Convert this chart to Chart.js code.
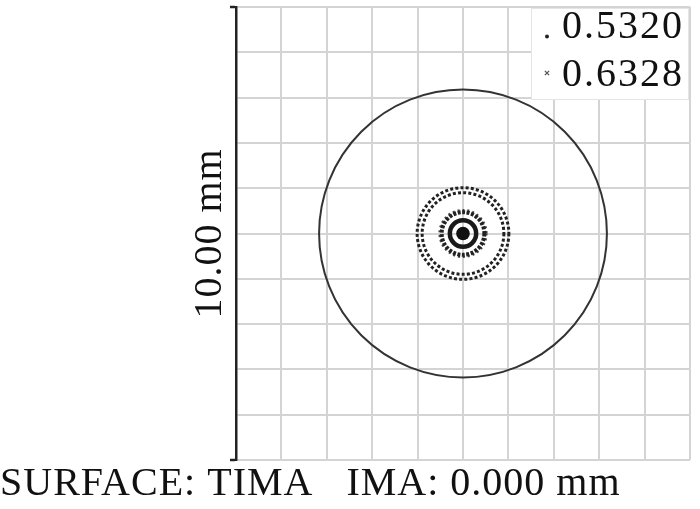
<!DOCTYPE html>
<html>
<head>
<meta charset="utf-8">
<script src="https://cdn.jsdelivr.net/npm/chart.js@4/dist/chart.umd.min.js"></script>
<style>
  html, body { margin: 0; padding: 0; background: #fff; }
  #wrap { width: 700px; height: 509px; }
</style>
</head>
<body>
<div id="wrap"><canvas id="c" width="700" height="509"></canvas></div>
<script>
// ---- data ----
const wavelengths = ['0.5320', '0.6328'];          // legend labels (µm)
const fieldMm = [-5, 5];                            // 10.00 mm box, 1 mm grid
const gridStepMm = [1];
const centroid = [0, 0];                            // spot centroid (mm)
const airyRadiusMm = [3.17];                        // Airy disk radius (mm)
const rings532Mm = [0.15, 0.29, 0.47, 0.90];        // spot ring radii, 0.5320
const rings633Mm = [0.52, 1.01];                    // spot ring radii, 0.6328
const yTitle = '10.00 mm';
const footer = 'SURFACE: TIMA   IMA: 0.000 mm';

const SERIF = '"Liberation Serif", "DejaVu Serif", serif';
const INK = '#222';
const GRID = '#d4d4d4';

function pxRadius(mm) {
  return (ctx) => {
    const s = ctx.chart.scales.x;
    return Math.abs(s.getPixelForValue(mm) - s.getPixelForValue(0));
  };
}

function ringDataset(mm, style) {
  return Object.assign({
    data: [{ x: centroid[0], y: centroid[1] }],
    pointStyle: 'circle',
    pointRadius: pxRadius(mm),
    backgroundColor: 'rgba(0,0,0,0)',
    borderColor: INK,
    pointBorderWidth: 3,
    ringDash: []
  }, style);
}

const datasets = [];
datasets.push(ringDataset(airyRadiusMm[0], { pointBorderWidth: 2, borderColor: '#333', wl: -1 }));
datasets.push(ringDataset(rings532Mm[0], { backgroundColor: '#111', pointBorderWidth: 0, wl: 0 }));
datasets.push(ringDataset(rings532Mm[1], { pointBorderWidth: 4.5, borderColor: '#1a1a1a', wl: 0 }));
datasets.push(ringDataset(rings532Mm[2], { pointBorderWidth: 4, ringDash: [3, 1.5], wl: 0 }));
datasets.push(ringDataset(rings532Mm[3], { pointBorderWidth: 3, ringDash: [3, 2.2], wl: 0 }));
datasets.push(ringDataset(rings633Mm[0], { pointBorderWidth: 2, ringDash: [2, 3], borderColor: '#444', wl: 1 }));
datasets.push(ringDataset(rings633Mm[1], { pointBorderWidth: 3, ringDash: [3, 2.2], wl: 1 }));

const spacingPlugin = {
  id: 'textSpacing',
  beforeDraw(chart) {
    if ('letterSpacing' in chart.ctx) chart.ctx.letterSpacing = '1px';
  }
};

const dashPlugin = {
  id: 'ringDash',
  beforeDatasetDraw(chart, args) {
    const ds = chart.data.datasets[args.index];
    chart.ctx.save();
    chart.ctx.setLineDash(ds.ringDash || []);
  },
  afterDatasetDraw(chart) {
    chart.ctx.restore();
  }
};

const legendPlugin = {
  id: 'insideLegend',
  afterDraw(chart) {
    const ctx = chart.ctx;
    const a = chart.chartArea;
    const right = a.right - 1, top = a.top + 1;
    const w = 158, h = 92;
    ctx.save();
    ctx.fillStyle = '#fff';
    ctx.fillRect(right - w, top, w, h);
    ctx.strokeStyle = 'rgba(0,0,0,0.10)';
    ctx.lineWidth = 1;
    ctx.strokeRect(right - w + 0.5, top + 0.5, w - 1, h - 1);
    ctx.font = '40px ' + SERIF;
    if ('letterSpacing' in ctx) ctx.letterSpacing = '2px';
    ctx.textBaseline = 'alphabetic';
    ctx.textAlign = 'left';
    const styles = [
      { pointStyle: 'circle', radius: 2, borderWidth: 0, dy: -1.5 },
      { pointStyle: 'crossRot', radius: 3, borderWidth: 1.3, dy: -13 }
    ];
    const baselines = [38, 86];
    wavelengths.forEach((label, i) => {
      const by = a.top + baselines[i] - 7;
      const mx = right - w + 16, my = by + styles[i].dy;
      ctx.fillStyle = '#222';
      ctx.strokeStyle = '#555';
      ctx.lineWidth = styles[i].borderWidth;
      if (Chart.helpers && Chart.helpers.drawPoint) {
        Chart.helpers.drawPoint(ctx, { pointStyle: styles[i].pointStyle, radius: styles[i].radius, borderWidth: styles[i].borderWidth, rotation: 0 }, mx, my);
      } else {
        ctx.beginPath(); ctx.arc(mx, my, styles[i].radius, 0, Math.PI * 2); ctx.fill();
      }
      ctx.fillStyle = '#111';
      ctx.fillText(label, right - w + 31, by);
    });
    ctx.restore();
  }
};

new Chart(document.getElementById('c'), {
  type: 'scatter',
  data: { datasets },
  plugins: [spacingPlugin, dashPlugin, legendPlugin],
  options: {
    responsive: false,
    animation: false,
    events: [],
    layout: { padding: { top: 7, right: 10, left: 0, bottom: 0 } },
    plugins: {
      legend: { display: false },
      tooltip: { enabled: false },
      title: {
        display: true,
        position: 'bottom',
        align: 'start',
        text: footer,
        color: '#111',
        font: { family: SERIF, size: 40, weight: 'normal', lineHeight: 1.2 },
        padding: { top: 0, bottom: 1 }
      }
    },
    scales: {
      x: {
        type: 'linear',
        min: fieldMm[0], max: fieldMm[1],
        ticks: { display: false, stepSize: gridStepMm[0] },
        grid: { color: GRID, lineWidth: 2, drawTicks: false },
        border: { display: false },
        afterFit(s) { s.height = 0; }
      },
      y: {
        type: 'linear',
        min: fieldMm[0], max: fieldMm[1],
        ticks: { display: false, stepSize: gridStepMm[0] },
        grid: {
          color: GRID, lineWidth: 2,
          drawTicks: true, tickLength: 6, tickWidth: 2.5,
          tickColor: (c) => (c.tick && (c.tick.value === fieldMm[0] || c.tick.value === fieldMm[1])) ? INK : 'rgba(0,0,0,0)'
        },
        border: { display: true, color: INK, width: 2.5 },
        title: {
          display: true,
          text: yTitle,
          color: '#111',
          font: { family: SERIF, size: 40, weight: 'normal', lineHeight: 1.2 },
          padding: { top: 186, bottom: 0 }
        },
        afterFit(s) { s.width = 236; }
      }
    }
  }
});
</script>
</body>
</html>
